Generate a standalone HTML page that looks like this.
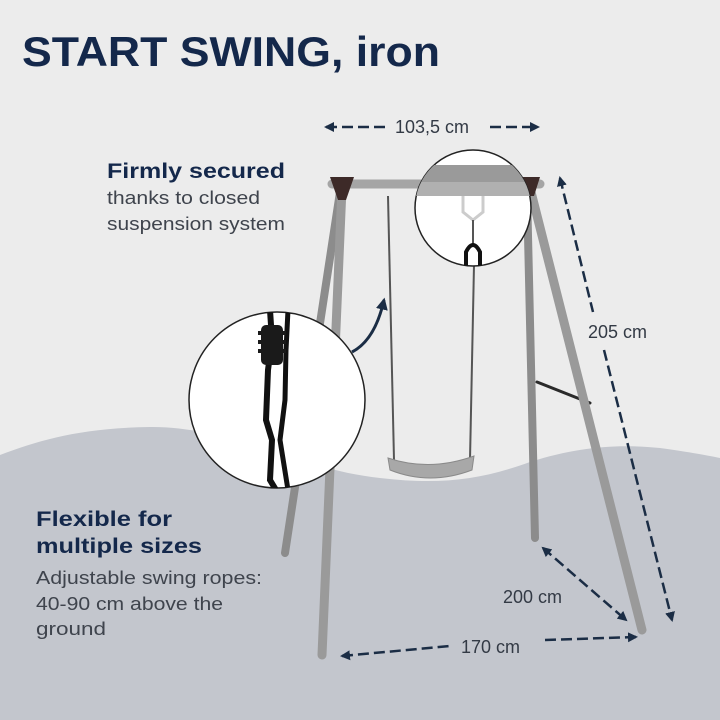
<!DOCTYPE html>
<html><head><meta charset="utf-8"><style>
html,body{margin:0;padding:0;background:#ececec;}
svg{display:block;}
text{font-family:"Liberation Sans",sans-serif;}
</style></head><body>
<svg width="720" height="720" viewBox="0 0 720 720" xmlns="http://www.w3.org/2000/svg">
<defs>
<marker id="ah" viewBox="0 0 10 10" refX="8" refY="5" markerWidth="4" markerHeight="4" orient="auto-start-reverse"><path d="M0,0 L10,5 L0,10 z" fill="#1b2d45"/></marker>
<clipPath id="c1"><circle cx="277" cy="400" r="88"/></clipPath>
<clipPath id="c2"><circle cx="473" cy="208" r="58"/></clipPath>
</defs>
<rect width="720" height="720" fill="#ececec"/>
<path d="M0,455 C40,440 80,428 150,427 C230,426 300,470 380,478 C440,485 480,480 530,462 C580,446 620,444 660,448 C690,452 710,456 720,458 L720,720 L0,720 z" fill="#c3c6cd"/>
<text x="22" y="66" font-size="42" font-weight="bold" fill="#14284b" textLength="418" lengthAdjust="spacingAndGlyphs">START SWING, iron</text>
<text x="107" y="178" font-size="21" font-weight="bold" fill="#14284b" textLength="178" lengthAdjust="spacingAndGlyphs">Firmly secured</text>
<text x="107" y="204" font-size="18" fill="#3f444d" textLength="153" lengthAdjust="spacingAndGlyphs">thanks to closed</text>
<text x="107" y="230" font-size="18" fill="#3f444d" textLength="178" lengthAdjust="spacingAndGlyphs">suspension system</text>
<text x="36" y="526" font-size="21" font-weight="bold" fill="#14284b" textLength="136" lengthAdjust="spacingAndGlyphs">Flexible for</text>
<text x="36" y="553" font-size="21" font-weight="bold" fill="#14284b" textLength="166" lengthAdjust="spacingAndGlyphs">multiple sizes</text>
<text x="36" y="584" font-size="18" fill="#3f444d" textLength="226" lengthAdjust="spacingAndGlyphs">Adjustable swing ropes:</text>
<text x="36" y="610" font-size="18" fill="#3f444d" textLength="187" lengthAdjust="spacingAndGlyphs">40-90 cm above the</text>
<text x="36" y="635" font-size="18" fill="#3f444d" textLength="70" lengthAdjust="spacingAndGlyphs">ground</text>
<g stroke-linecap="round">
<line x1="340" y1="192" x2="285" y2="553" stroke="#8c8c8c" stroke-width="8"/>
<line x1="527" y1="192" x2="535" y2="538" stroke="#8c8c8c" stroke-width="8"/>
<line x1="537" y1="382" x2="590" y2="403" stroke="#2a2a2a" stroke-width="3"/>
<line x1="342" y1="188" x2="322" y2="655" stroke="#9a9a9a" stroke-width="9"/>
<line x1="530" y1="188" x2="642" y2="630" stroke="#9a9a9a" stroke-width="9"/>
<line x1="332" y1="184" x2="540" y2="184" stroke="#a5a5a5" stroke-width="9"/>
</g>
<path d="M330,177 L354,177 L346,200 L338,200 z" fill="#3d2a28"/>
<path d="M522,177 L540,177 L534,196 L528,196 z" fill="#3d2a28"/>
<line x1="388" y1="196" x2="394" y2="460" stroke="#555" stroke-width="2"/>
<line x1="474" y1="265" x2="470" y2="460" stroke="#555" stroke-width="2"/>
<path d="M388,458 Q430,472 474,456 L472,470 Q430,486 390,470 z" fill="#a8a8a8" stroke="#8a8a8a"/>
<g stroke="#1b2d45" stroke-width="2.5" stroke-dasharray="11,5" fill="none">
<line x1="326" y1="127" x2="390" y2="127" marker-start="url(#ah)"/>
<line x1="490" y1="127" x2="538" y2="127" marker-end="url(#ah)"/>
<line x1="560" y1="178" x2="593" y2="312" marker-start="url(#ah)"/>
<line x1="604" y1="350" x2="672" y2="620" marker-end="url(#ah)"/>
<line x1="543" y1="548" x2="626" y2="620" marker-start="url(#ah)" marker-end="url(#ah)"/>
<line x1="342" y1="656" x2="450" y2="646" marker-start="url(#ah)"/>
<line x1="545" y1="640" x2="636" y2="637" marker-end="url(#ah)"/>
</g>
<text x="395" y="133" font-size="18" fill="#333a45">103,5 cm</text>
<text x="588" y="338" font-size="18" fill="#333a45">205 cm</text>
<text x="503" y="603" font-size="18" fill="#333a45">200 cm</text>
<text x="461" y="653" font-size="18" fill="#333a45">170 cm</text>
<path d="M352,352 Q375,340 384,300" stroke="#1b2d45" stroke-width="3" fill="none" marker-end="url(#ah)"/>
<circle cx="277" cy="400" r="88" fill="#fff" stroke="#222" stroke-width="1.5"/>
<g clip-path="url(#c1)">
<path d="M270,310 L272,340 L268,370 L266,420 L272,440 L270,480 L276,490" stroke="#111" stroke-width="6" fill="none"/>
<path d="M288,310 L286,350 L285,400 L280,440 L288,490" stroke="#111" stroke-width="5" fill="none"/>
<rect x="261" y="325" width="22" height="40" rx="5" fill="#1a1a1a"/>
<g stroke="#1a1a1a" stroke-width="4"><line x1="258" y1="333" x2="286" y2="333"/><line x1="258" y1="342" x2="286" y2="342"/><line x1="258" y1="351" x2="286" y2="351"/></g>
</g>
<circle cx="473" cy="208" r="58" fill="#fff" stroke="#222" stroke-width="1.5"/>
<g clip-path="url(#c2)">
<rect x="410" y="165" width="130" height="17" fill="#9a9a9a"/>
<rect x="410" y="182" width="130" height="14" fill="#b0b0b0"/>
<path d="M463,196 L463,212 L473,220 L483,212 L483,196" stroke="#ccc" stroke-width="3" fill="none"/>
<line x1="473" y1="220" x2="473" y2="245" stroke="#555" stroke-width="2"/>
<path d="M466,270 L466,252 Q473,238 480,252 L480,270" stroke="#111" stroke-width="4" fill="none"/>
</g>
</svg>
</body></html>
